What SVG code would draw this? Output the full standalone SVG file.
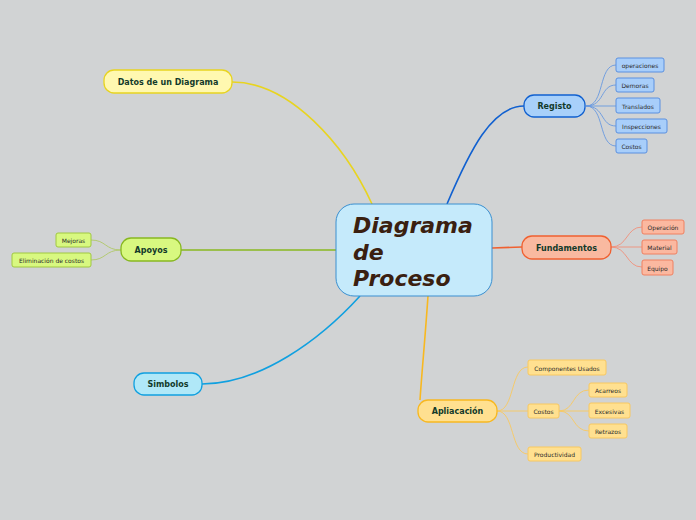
<svg xmlns="http://www.w3.org/2000/svg" width="696" height="520" viewBox="0 0 696 520">
<style>
text{font-family:"DejaVu Sans","Verdana",sans-serif;text-anchor:middle;dominant-baseline:central}
.main{font-size:8px;font-weight:bold;fill:#123a2a}
.sub{font-size:6px;fill:#2a2a2a}
.c{fill:none}
.ct{font-size:22px;font-weight:bold;font-style:italic;fill:#3a2010;text-anchor:start}
</style>
<rect width="696" height="520" fill="#d1d3d4"/>
<g id="connectors">
<path class="c" d="M372,204 C345,145 290,82 232,82" stroke="#e8d420" stroke-width="1.6"/>
<path class="c" d="M447,204 C470,150 492,106 524,106" stroke="#1060d0" stroke-width="1.6"/>
<path class="c" d="M492,248 L522,247" stroke="#f06030" stroke-width="1.6"/>
<path class="c" d="M336,250 L181,250" stroke="#88b820" stroke-width="1.6"/>
<path class="c" d="M360,296 C320,340 260,384 202,384" stroke="#10a0e0" stroke-width="1.6"/>
<path class="c" d="M428,296 C425,340 422,370 420,400" stroke="#f8b820" stroke-width="1.6"/>
<g stroke="#6898e0" stroke-width="0.9" fill="none">
<path d="M586,106 C605,106 598,65 616,65"/>
<path d="M586,106 C605,106 600,85 616,85"/>
<path d="M586,106 L616,106"/>
<path d="M586,106 C605,106 600,126 616,126"/>
<path d="M586,106 C605,106 598,146 616,146"/>
</g>
<g stroke="#f0907a" stroke-width="0.9" fill="none">
<path d="M611,247 C628,247 626,227 642,227"/>
<path d="M611,247 L642,247"/>
<path d="M611,247 C628,247 626,267 642,267"/>
</g>
<g stroke="#b0c868" stroke-width="0.9" fill="none">
<path d="M121,250 C105,250 106,240 91,240"/>
<path d="M121,250 C105,250 106,260 91,260"/>
</g>
<g stroke="#f8c860" stroke-width="0.9" fill="none">
<path d="M497,411 C515,411 510,367 528,367"/>
<path d="M497,411 L528,411"/>
<path d="M497,411 C515,411 510,454 528,454"/>
<path d="M559,411 C575,411 572,390 589,390"/>
<path d="M559,411 L589,411"/>
<path d="M559,411 C575,411 572,431 589,431"/>
</g>
</g>
<g id="center">
<rect x="336" y="204" width="156" height="92" rx="18" fill="#c5eafb" stroke="#3a8fd0" stroke-width="1"/>
<text class="ct" x="353" y="225">Diagrama</text>
<text class="ct" x="353" y="252">de</text>
<text class="ct" x="353" y="278">Proceso</text>
</g>
<g id="datos">
<rect x="104" y="70" width="128" height="23" rx="10" fill="#fff8b0" stroke="#e8d420" stroke-width="1.3"/>
<text class="main" x="168" y="82">Datos de un Diagrama</text>
</g>
<g id="registo">
<rect x="524" y="95" width="61" height="22" rx="10" fill="#a8d0fa" stroke="#1060d0" stroke-width="1.3"/>
<text class="main" x="554.5" y="106.5">Registo</text>
</g>
<g id="fundamentos">
<rect x="522" y="236" width="89" height="23" rx="10" fill="#f9b9a0" stroke="#f06030" stroke-width="1.3"/>
<text class="main" x="566.5" y="248">Fundamentos</text>
</g>
<g id="apoyos">
<rect x="121" y="238" width="60" height="23" rx="10" fill="#d8f880" stroke="#88b820" stroke-width="1.3"/>
<text class="main" x="151" y="250">Apoyos</text>
</g>
<g id="simbolos">
<rect x="134" y="373" width="68" height="22" rx="10" fill="#b0e8f8" stroke="#10a0e0" stroke-width="1.3"/>
<text class="main" x="168" y="384.5">Simbolos</text>
</g>
<g id="apliacacion">
<rect x="418" y="400" width="79" height="22" rx="10" fill="#ffe090" stroke="#f8b820" stroke-width="1.3"/>
<text class="main" x="457.5" y="411.5">Apliacación</text>
</g>
<g id="operaciones"><rect x="616" y="58" width="48" height="14" rx="2" fill="#a8cefa" stroke="#5a90e0"/><text class="sub" x="640" y="65.5">operaciones</text></g>
<g id="demoras"><rect x="616" y="78" width="38" height="14" rx="2" fill="#a8cefa" stroke="#5a90e0"/><text class="sub" x="635" y="85.5">Demoras</text></g>
<g id="translados"><rect x="616" y="98" width="44" height="15" rx="2" fill="#a8cefa" stroke="#5a90e0"/><text class="sub" x="638" y="106">Translados</text></g>
<g id="inspecciones"><rect x="616" y="119" width="51" height="14" rx="2" fill="#a8cefa" stroke="#5a90e0"/><text class="sub" x="641.5" y="126.5">Inspecciones</text></g>
<g id="costos-r"><rect x="616" y="139" width="31" height="14" rx="2" fill="#a8cefa" stroke="#5a90e0"/><text class="sub" x="631.5" y="146.5">Costos</text></g>
<g id="operacion"><rect x="642" y="220" width="42" height="14" rx="2" fill="#fbb8a0" stroke="#f08060"/><text class="sub" x="663" y="227.5">Operación</text></g>
<g id="material"><rect x="642" y="240" width="35" height="14" rx="2" fill="#fbb8a0" stroke="#f08060"/><text class="sub" x="659.5" y="247.5">Material</text></g>
<g id="equipo"><rect x="642" y="260" width="31" height="15" rx="2" fill="#fbb8a0" stroke="#f08060"/><text class="sub" x="657.5" y="268">Equipo</text></g>
<g id="mejoras"><rect x="56" y="233" width="35" height="14" rx="2" fill="#d8f880" stroke="#a0c840"/><text class="sub" x="73.5" y="240.5">Mejoras</text></g>
<g id="eliminacion"><rect x="12" y="253" width="79" height="14" rx="2" fill="#d8f880" stroke="#a0c840"/><text class="sub" x="51.5" y="260.5">Eliminación de costos</text></g>
<g id="componentes"><rect x="528" y="360" width="78" height="15" rx="2" fill="#ffe090" stroke="#f8c860"/><text class="sub" x="567" y="368">Componentes Usados</text></g>
<g id="costos-a"><rect x="528" y="404" width="31" height="14" rx="2" fill="#ffe090" stroke="#f8c860"/><text class="sub" x="543.5" y="411.5">Costos</text></g>
<g id="productividad"><rect x="528" y="447" width="53" height="14" rx="2" fill="#ffe090" stroke="#f8c860"/><text class="sub" x="554.5" y="454.5">Productividad</text></g>
<g id="acarreos"><rect x="589" y="383" width="38" height="14" rx="2" fill="#ffe090" stroke="#f8c860"/><text class="sub" x="608" y="390.5">Acarreos</text></g>
<g id="excesivas"><rect x="589" y="403" width="41" height="15" rx="2" fill="#ffe090" stroke="#f8c860"/><text class="sub" x="609.5" y="411">Excesivas</text></g>
<g id="retrazos"><rect x="589" y="424" width="38" height="14" rx="2" fill="#ffe090" stroke="#f8c860"/><text class="sub" x="608" y="431.5">Retrazos</text></g>
</svg>
